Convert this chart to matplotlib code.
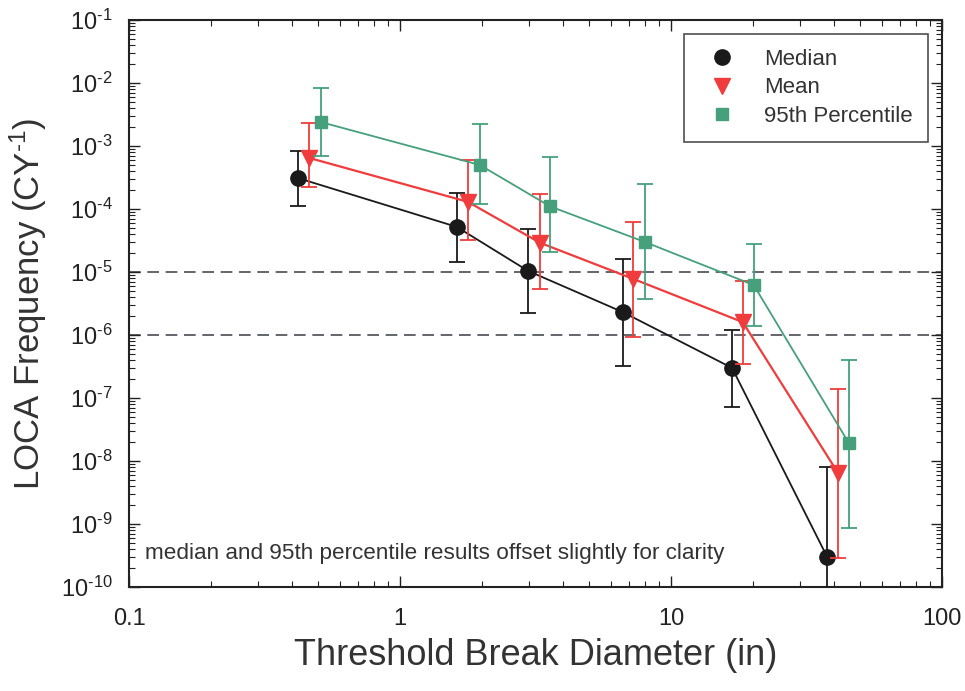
import matplotlib
matplotlib.use("Agg")
import matplotlib.pyplot as plt
from matplotlib.lines import Line2D
import numpy as np

plt.rcParams['font.family'] = ['Liberation Sans', 'DejaVu Sans']
plt.rcParams['mathtext.fontset'] = 'custom'
plt.rcParams['mathtext.rm'] = 'Liberation Sans'
plt.rcParams['mathtext.it'] = 'Liberation Sans:italic'
plt.rcParams['mathtext.bf'] = 'Liberation Sans:bold'
plt.rcParams['axes.unicode_minus'] = False

# Data
median_x = [0.42, 1.62, 2.97, 6.65, 16.8, 37.7]
median_y = [3.1e-4, 5.2e-5, 1.04e-5, 2.3e-6, 3.0e-7, 3.0e-10]
median_lo = [1.1e-4, 1.45e-5, 2.2e-6, 3.2e-7, 7.2e-8, 1e-11]
median_hi = [8.3e-4, 1.8e-4, 4.8e-5, 1.6e-5, 1.2e-6, 8e-9]

mean_x = [0.46, 1.78, 3.29, 7.24, 18.4, 41.3]
mean_y = [6.5e-4, 1.3e-4, 2.9e-5, 7.8e-6, 1.6e-6, 6.5e-9]
mean_lo = [2.2e-4, 3.2e-5, 5.4e-6, 9.3e-7, 3.5e-7, 2.9e-10]
mean_hi = [2.3e-3, 6.0e-4, 1.7e-4, 6.2e-5, 7.2e-6, 1.4e-7]

p95_x = [0.51, 1.97, 3.58, 8.0, 20.2, 45.4]
p95_y = [2.4e-3, 5.0e-4, 1.1e-4, 3.0e-5, 6.2e-6, 1.9e-8]
p95_lo = [6.9e-4, 1.2e-4, 2.1e-5, 3.7e-6, 1.4e-6, 8.7e-10]
p95_hi = [8.3e-3, 2.2e-3, 6.7e-4, 2.5e-4, 2.8e-5, 4.0e-7]

thresholds = [1e-5, 1e-6]
series_names = ["Median", "Mean", "95th Percentile"]
x_ticks = [0.1, 1, 10, 100]
x_tick_labels = ["0.1", "1", "10", "100"]
y_exponents = list(range(-10, 0))

c_black = "#1a1a1a"
c_red = "#f03c3c"
c_green = "#46a07c"

HY = "\u2010"  # hyphen, as in the reference exponents

fig = plt.figure(figsize=(9.65, 6.91), dpi=100)
ax = fig.add_axes([129/965, 1-587/691, (942-129)/965, (587-20)/691])

for yv in thresholds:
    ax.axhline(yv, color="#4a4a55", lw=1.2, ls=(0, (7, 4)), zorder=1)

def draw(x, y, lo, hi, color, marker, ms, lw, z):
    y = np.array(y); lo = np.array(lo); hi = np.array(hi)
    yerr = [y - lo, hi - y]
    ax.errorbar(x, y, yerr=yerr, color=color, marker=marker, ms=ms, lw=lw,
                elinewidth=1.3, capsize=5.5, capthick=1.3, zorder=z,
                markeredgecolor=color, markerfacecolor=color)

draw(median_x, median_y, median_lo, median_hi, c_black, "o", 11, 1.3, 3)
draw(mean_x, mean_y, mean_lo, mean_hi, c_red, "v", 11, 1.6, 4)
draw(p95_x, p95_y, p95_lo, p95_hi, c_green, "s", 9, 1.3, 5)

ax.set_xscale("log")
ax.set_yscale("log")
ax.set_xlim(0.1, 100)
ax.set_ylim(1e-10, 1e-1)

ax.set_xticks(x_ticks)
ax.set_xticklabels(x_tick_labels)
ax.set_yticks([10.0**e for e in y_exponents])
ax.set_yticklabels([r"10$^{\mathrm{%s%d}}$" % (HY, -e) for e in y_exponents])
ax.yaxis.set_minor_locator(matplotlib.ticker.LogLocator(base=10, subs=np.arange(2, 10), numticks=20))
ax.yaxis.set_minor_formatter(matplotlib.ticker.NullFormatter())

ax.tick_params(which="both", direction="in", top=True, right=True, labelsize=17, colors="#222222")
ax.tick_params(which="major", length=8, width=1.0)
ax.tick_params(axis="x", which="major", pad=15)
ax.tick_params(axis="y", which="major", pad=12)
ax.tick_params(which="minor", length=4, width=0.8)
for sp in ax.spines.values():
    sp.set_linewidth(1.5)
    sp.set_color("#222222")

ax.set_xlabel("Threshold Break Diameter (in)", fontsize=26, color="#333333", labelpad=6)
ax.set_ylabel(r"LOCA Frequency (CY$^{\mathrm{%s1}}$)" % HY, fontsize=25, color="#333333", labelpad=8)

ax.text(0.02, 0.04, "median and 95th percentile results offset slightly for clarity",
        transform=ax.transAxes, fontsize=16.2, color="#333333", va="bottom", ha="left")

handles = [
    Line2D([], [], color=c_black, marker="o", ls="none", ms=11),
    Line2D([], [], color=c_red, marker="v", ls="none", ms=11),
    Line2D([], [], color=c_green, marker="s", ls="none", ms=9),
]
leg = ax.legend(handles, series_names, loc="upper right", fontsize=16,
                frameon=True, fancybox=False, edgecolor="#222222",
                borderpad=0.7, handletextpad=0.9, labelspacing=0.33,
                bbox_to_anchor=(0.983, 0.976), borderaxespad=0)
leg.get_frame().set_linewidth(1.2)
for t in leg.get_texts():
    t.set_color("#333333")

fig.savefig("out.png", dpi=100)
